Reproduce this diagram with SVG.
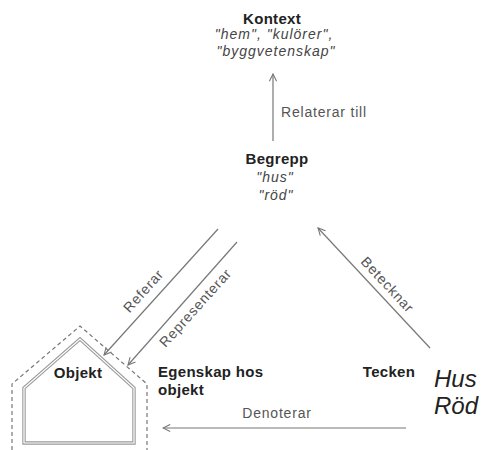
<svg xmlns="http://www.w3.org/2000/svg" width="481" height="450" viewBox="0 0 481 450">
<style>
text{font-family:"Liberation Sans",Arial,sans-serif;}
.b{font-weight:bold;font-size:15px;letter-spacing:0.3px;fill:#222;}
.i{font-style:italic;font-size:14px;letter-spacing:1px;fill:#444;}
.l{font-size:14px;letter-spacing:0.8px;fill:#555;}
.big{font-style:italic;font-size:24px;fill:#222;}
.c{fill:none;stroke:#777;stroke-width:1.2;}
</style>
<defs>
<marker id="ah" viewBox="0 0 10 10" refX="9" refY="5" markerWidth="9" markerHeight="9" orient="auto" markerUnits="userSpaceOnUse">
<path d="M1,1 L9,5 L1,9" fill="none" stroke="#777" stroke-width="1.2"/>
</marker>
</defs>
<rect width="481" height="450" fill="#fff"/>
<g id="kontext">
<text class="b" x="272" y="24" text-anchor="middle">Kontext</text>
<text class="i" x="274" y="39" text-anchor="middle">"hem", "kulörer",</text>
<text class="i" x="276" y="56" text-anchor="middle">"byggvetenskap"</text>
</g>
<g id="begrepp">
<text class="b" x="277" y="164" text-anchor="middle">Begrepp</text>
<text class="i" x="275" y="182" text-anchor="middle">"hus"</text>
<text class="i" x="276" y="200" text-anchor="middle">"röd"</text>
</g>
<g id="objekt">
<path d="M12,450 L12,384 L80,326 L147,384 L147,450" fill="none" stroke="#777" stroke-width="1.2" stroke-dasharray="4,3"/>
<path d="M24,443 L24,388 L80,339 L134,388 L134,443 Z" fill="none" stroke="#999" stroke-width="3.4"/>
<path d="M24,443 L24,388 L80,339 L134,388 L134,443 Z" fill="none" stroke="#fff" stroke-width="1.2"/>
<text class="b" x="78" y="378" text-anchor="middle">Objekt</text>
</g>
<g id="egenskap">
<text class="b" x="158" y="377">Egenskap hos</text>
<text class="b" x="158" y="395">objekt</text>
</g>
<g id="tecken">
<text class="b" x="389" y="377" text-anchor="middle">Tecken</text>
<text class="big" x="434" y="387">Hus</text>
<text class="big" x="434" y="414">Röd</text>
</g>
<g id="connectors">
<line class="c" x1="273" y1="141" x2="273" y2="74" marker-end="url(#ah)"/>
<text class="l" x="281" y="117">Relaterar till</text>
<line class="c" x1="218" y1="229" x2="104" y2="355" marker-end="url(#ah)"/>
<text class="l" transform="translate(147,294) rotate(-48)" text-anchor="middle">Referar</text>
<line class="c" x1="237" y1="242" x2="128" y2="365" marker-end="url(#ah)"/>
<text class="l" transform="translate(199,311) rotate(-48)" text-anchor="middle">Representerar</text>
<line class="c" x1="430" y1="348" x2="318" y2="228" marker-end="url(#ah)"/>
<text class="l" transform="translate(384,288) rotate(47)" text-anchor="middle">Betecknar</text>
<line class="c" x1="406" y1="428" x2="163" y2="428" marker-end="url(#ah)"/>
<text class="l" x="277" y="418" text-anchor="middle">Denoterar</text>
</g>
</svg>
